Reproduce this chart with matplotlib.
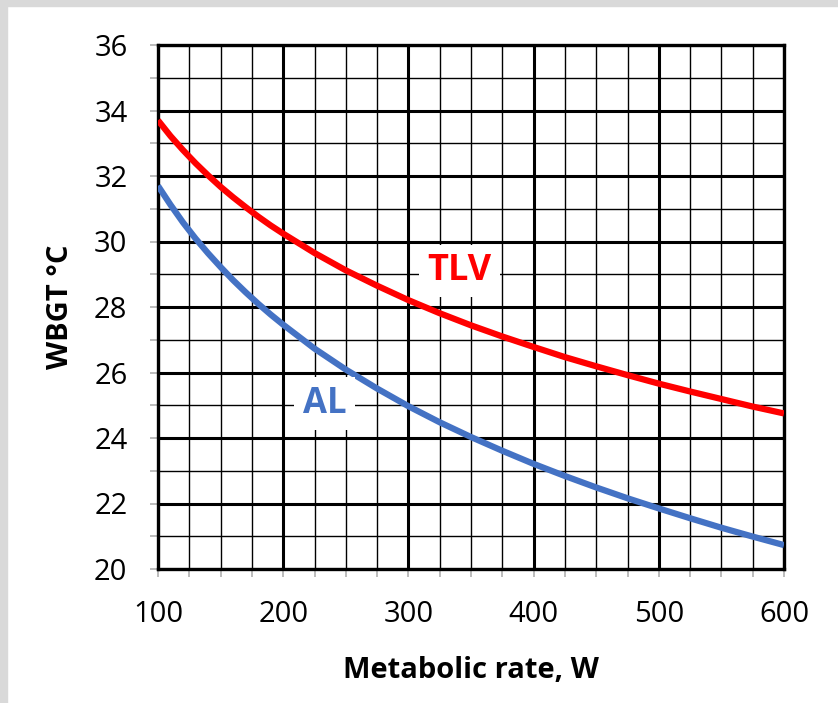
import matplotlib.pyplot as plt
from matplotlib.patches import Rectangle
from matplotlib.ticker import MultipleLocator

plt.rcParams['font.family'] = ['Open Sans', 'DejaVu Sans']

# Metabolic rate (W) and WBGT limits (deg C)
metabolic = [100, 110, 120, 130, 140, 150, 160, 170, 180, 190, 200,
             225, 250, 275, 300, 325, 350, 375, 400, 425, 450, 475,
             500, 525, 550, 575, 600]
tlv = [33.70, 33.22, 32.79, 32.39, 32.02, 31.67, 31.35, 31.05, 30.76, 30.49, 30.24,
       29.65, 29.12, 28.65, 28.21, 27.81, 27.44, 27.10, 26.78, 26.47, 26.19, 25.92,
       25.66, 25.42, 25.19, 24.96, 24.75]
al = [31.70, 31.12, 30.58, 30.09, 29.64, 29.22, 28.82, 28.45, 28.10, 27.77, 27.46,
      26.73, 26.09, 25.51, 24.97, 24.48, 24.03, 23.61, 23.21, 22.84, 22.49, 22.16,
      21.85, 21.55, 21.26, 20.99, 20.73]

fig = plt.figure(figsize=(8.38, 7.03), dpi=100)

# light grey frame on the left and top edges
fig.patches.append(Rectangle((0, 1 - 6 / 703), 1, 6 / 703, transform=fig.transFigure,
                             color='#d9d9d9', zorder=0))
fig.patches.append(Rectangle((0, 0), 7 / 838, 1, transform=fig.transFigure,
                             color='#d9d9d9', zorder=0))

ax = fig.add_axes([158 / 838, 1 - 569 / 703, (784 - 158) / 838, (569 - 45) / 703])

ax.plot(metabolic, tlv, color='#ff0000', lw=4.5, solid_capstyle='butt', zorder=3)
ax.plot(metabolic, al, color='#4472c4', lw=4.5, solid_capstyle='butt', zorder=3)

ax.set_xlim(100, 600)
ax.set_ylim(20, 36)
ax.xaxis.set_major_locator(MultipleLocator(100))
ax.xaxis.set_minor_locator(MultipleLocator(25))
ax.yaxis.set_major_locator(MultipleLocator(2))
ax.yaxis.set_minor_locator(MultipleLocator(1))

ax.grid(which='major', color='black', lw=2.2, zorder=1)
ax.grid(which='minor', color='black', lw=1.0, zorder=1)
ax.set_axisbelow(True)

for s in ax.spines.values():
    s.set_linewidth(2.4)
    s.set_color('black')

ax.tick_params(which='both', direction='out', color='#b0b0b0', width=1.2)
ax.tick_params(which='major', length=6, labelsize=21)
ax.tick_params(which='minor', length=6)
ax.tick_params(axis='y', pad=16)
ax.tick_params(axis='x', pad=16)

ax.set_xlabel('Metabolic rate, W', fontsize=21, fontweight='bold', labelpad=20)
ax.set_ylabel('WBGT °C', fontsize=21, fontweight='bold', labelpad=14)

ax.text(341, 29.1, 'TLV', color='#ff0000', fontsize=26, fontweight='bold',
        ha='center', va='center', zorder=4,
        bbox=dict(facecolor='white', edgecolor='none', pad=6))
ax.text(233, 25.05, 'AL', color='#4472c4', fontsize=25, fontweight='bold',
        ha='center', va='center', zorder=4,
        bbox=dict(facecolor='white', edgecolor='none', pad=6))

fig.savefig('out.png', dpi=100)
